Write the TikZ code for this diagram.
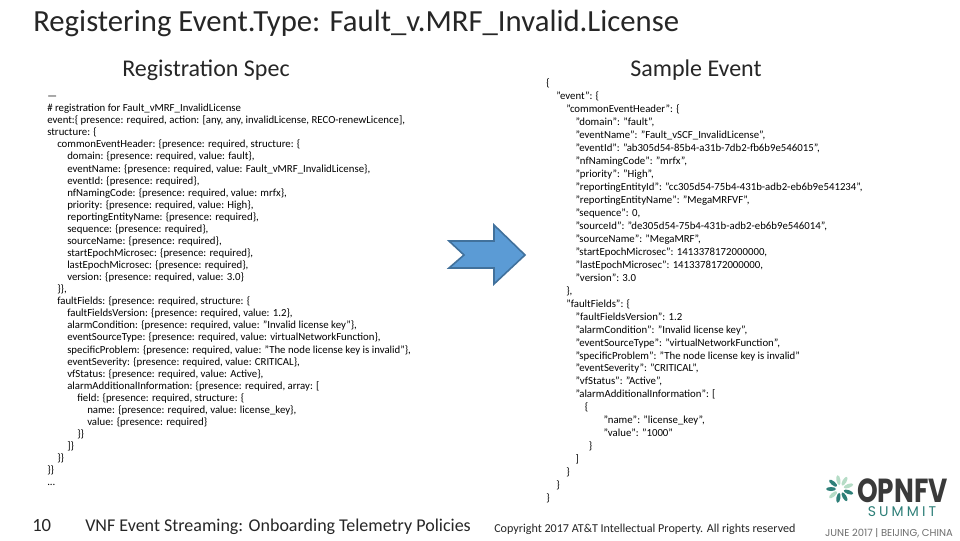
\documentclass[tikz,border=0pt]{standalone}
\usepackage{fontspec}
\setmainfont{Carlito}
\newfontfamily\logofont{Poppins}
\usepackage{xcolor}
\usetikzlibrary{positioning}
\definecolor{arrowblue}{HTML}{5B9BD5}
\definecolor{arrowedge}{HTML}{41719C}
\definecolor{logodark}{HTML}{3A3A3A}
\definecolor{logoteal}{HTML}{2E7F78}
\definecolor{logogrey}{HTML}{6E6E6E}
\definecolor{leafpale}{HTML}{B5DCC6}
\newcommand{\lvl}[1]{\hspace*{#1pt}}

\begin{document}
\begin{tikzpicture}[x=0.75pt, y=0.75pt]
    \tikzstyle{heading} = [inner sep=0pt, text=black!85, font=\fontsize{18}{20}\selectfont]
    \tikzstyle{footer} = [inner sep=0pt, anchor=west, text=black!85]
    \tikzstyle{specbox} = [inner sep=0pt, anchor=north west, align=left, font=\fontsize{8.1}{9.05}\selectfont]
    \tikzstyle{samplebox} = [inner sep=0pt, anchor=north west, align=left, font=\fontsize{8.1}{9.73}\selectfont]

    \useasboundingbox (0,0) rectangle (960,540);
    \fill [white] (0,0) rectangle (960,540);

    \node [inner sep=0pt, anchor=west, text=black!85, font=\fontsize{23.05}{28}\selectfont] (title) at (33,517) {Registering Event.Type: Fault\_v.MRF\_Invalid.License};
    \node [heading] (spechead) at (206,469.5) {Registration Spec};
    \node [heading] (samplehead) at (696,469.5) {Sample Event};

    \node [specbox] (spec) at (47,444) {%
    —\\
    \# registration for Fault\_vMRF\_InvalidLicense\\
    event:\{ presence: required, action: [any, any, invalidLicense, RECO-renewLicence],\\
    structure: \{\\
    \lvl{7.5}commonEventHeader: \{presence: required, structure: \{\\
    \lvl{15}domain: \{presence: required, value: fault\},\\
    \lvl{15}eventName: \{presence: required, value: Fault\_vMRF\_InvalidLicense\},\\
    \lvl{15}eventId: \{presence: required\},\\
    \lvl{15}nfNamingCode: \{presence: required, value: mrfx\},\\
    \lvl{15}priority: \{presence: required, value: High\},\\
    \lvl{15}reportingEntityName: \{presence: required\},\\
    \lvl{15}sequence: \{presence: required\},\\
    \lvl{15}sourceName: \{presence: required\},\\
    \lvl{15}startEpochMicrosec: \{presence: required\},\\
    \lvl{15}lastEpochMicrosec: \{presence: required\},\\
    \lvl{15}version: \{presence: required, value: 3.0\}\\
    \lvl{7.5}\}\},\\
    \lvl{7.5}faultFields: \{presence: required, structure: \{\\
    \lvl{15}faultFieldsVersion: \{presence: required, value: 1.2\},\\
    \lvl{15}alarmCondition: \{presence: required, value: "Invalid license key"\},\\
    \lvl{15}eventSourceType: \{presence: required, value: virtualNetworkFunction\},\\
    \lvl{15}specificProblem: \{presence: required, value: "The node license key is invalid"\},\\
    \lvl{15}eventSeverity: \{presence: required, value: CRITICAL\},\\
    \lvl{15}vfStatus: \{presence: required, value: Active\},\\
    \lvl{15}alarmAdditionalInformation: \{presence: required, array: [\\
    \lvl{22.5}field: \{presence: required, structure: \{\\
    \lvl{30}name: \{presence: required, value: license\_key\},\\
    \lvl{30}value: \{presence: required\}\\
    \lvl{22.5}\}\}\\
    \lvl{15}]\}\\
    \lvl{7.5}\}\}\\
    \}\}\\
    ...};

    \node [samplebox] (sample) at (546,461.5) {%
    \{\\
    \lvl{7.5}"event": \{\\
    \lvl{15}"commonEventHeader": \{\\
    \lvl{22}"domain": "fault",\\
    \lvl{22}"eventName": "Fault\_vSCF\_InvalidLicense",\\
    \lvl{22}"eventId": "ab305d54-85b4-a31b-7db2-fb6b9e546015",\\
    \lvl{22}"nfNamingCode": "mrfx",\\
    \lvl{22}"priority": "High",\\
    \lvl{22}"reportingEntityId": "cc305d54-75b4-431b-adb2-eb6b9e541234",\\
    \lvl{22}"reportingEntityName": "MegaMRFVF",\\
    \lvl{22}"sequence": 0,\\
    \lvl{22}"sourceId": "de305d54-75b4-431b-adb2-eb6b9e546014",\\
    \lvl{22}"sourceName": "MegaMRF",\\
    \lvl{22}"startEpochMicrosec": 1413378172000000,\\
    \lvl{22}"lastEpochMicrosec": 1413378172000000,\\
    \lvl{22}"version": 3.0\\
    \lvl{15}\},\\
    \lvl{15}"faultFields": \{\\
    \lvl{22}"faultFieldsVersion": 1.2\\
    \lvl{22}"alarmCondition": "Invalid license key",\\
    \lvl{22}"eventSourceType": "virtualNetworkFunction",\\
    \lvl{22}"specificProblem": "The node license key is invalid"\\
    \lvl{22}"eventSeverity": "CRITICAL",\\
    \lvl{22}"vfStatus": "Active",\\
    \lvl{22}"alarmAdditionalInformation": [\\
    \lvl{29}\{\\
    \lvl{43}"name": "license\_key",\\
    \lvl{43}"value": "1000"\\
    \lvl{32}\}\\
    \lvl{22}]\\
    \lvl{15}\}\\
    \lvl{7.5}\}\\
    \}};

    % block arrow between the two panels
    \draw [fill=arrowblue, draw=arrowedge, line width=1.2pt, line join=miter]
        (449,299) -- (494,299) -- (494,315) -- (525,285) -- (494,256) -- (494,272) -- (449,272) -- (464,285) -- cycle;

    \node [footer, font=\fontsize{14}{16}\selectfont] (pagenum) at (32,14) {10};
    \node [footer, font=\fontsize{13.5}{16}\selectfont] (talk) at (85,13) {VNF Event Streaming: Onboarding Telemetry Policies};
    \node [footer, font=\fontsize{9.07}{11}\selectfont] (copy) at (494,11) {Copyright 2017 AT\&T Intellectual Property. All rights reserved};

    % summit logo
    \foreach \a/\c in {20/leafpale, 60/leafpale, 100/leafpale, 140/logoteal, 180/logoteal, 220/leafpale, 260/logoteal, 300/logoteal, 340/logoteal}
        \fill [\c, rotate around={\a:(840,51)}] (849,51) ellipse (5 and 2);
    \node [inner sep=0pt, text=logodark, xscale=0.79, text depth=0pt, font=\logofont\bfseries\fontsize{25}{27}\selectfont] (opnfv) at (902.5,49) {OPNFV};
    \node [inner sep=0pt, text=logoteal, text depth=0pt, font=\logofont\addfontfeature{LetterSpace=22}\fontsize{10.5}{12}\selectfont] (summit) at (902,28) {SUMMIT};
    \node [inner sep=0pt, text=logogrey, font=\logofont\fontsize{7.5}{9}\selectfont] (where) at (889,6.5) {JUNE 2017 | BEIJING, CHINA};
\end{tikzpicture}
\end{document}
